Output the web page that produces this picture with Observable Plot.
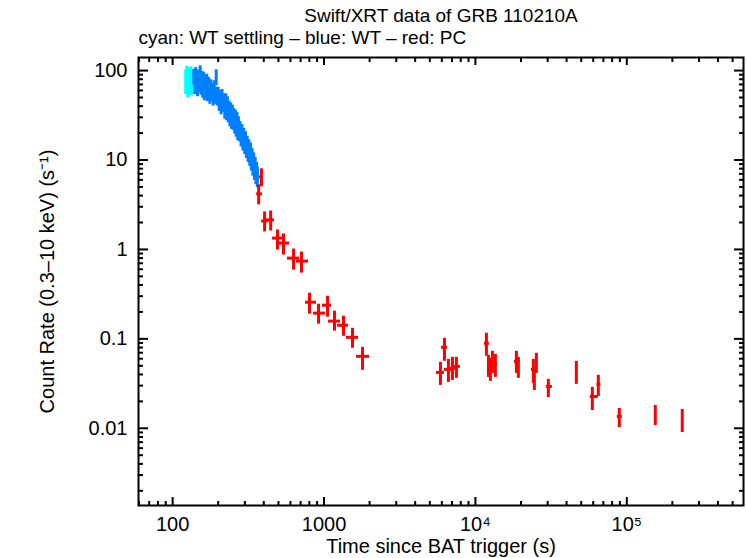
<!DOCTYPE html>
<html>
<head>
<meta charset="utf-8">
<script src="https://cdn.jsdelivr.net/npm/d3@7"></script>
<script src="https://cdn.jsdelivr.net/npm/@observablehq/plot@0.6"></script>
<style>
  html, body { margin: 0; padding: 0; background: #fff; }
</style>
</head>
<body>
<div id="chart"></div>
<script>
// ---------- Text ----------
const titleText = "Swift/XRT data of GRB 110210A";
const subtitleText = "cyan: WT settling \u2013 blue: WT \u2013 red: PC";
const xLabelText = "Time since BAT trigger (s)";
const yLabelText = "Count Rate (0.3\u201310 keV) (s\u207B\u00B9)";

// ---------- Ticks ----------
const xMajor = [100, 1000, 10000, 100000];
const xMajorLabels = ["100", "1000", "10\u2074", "10\u2075"];
const xMinor = [60, 70, 80, 90, 200, 300, 400, 500, 600, 700, 800, 900,
  2000, 3000, 4000, 5000, 6000, 7000, 8000, 9000,
  20000, 30000, 40000, 50000, 60000, 70000, 80000, 90000,
  200000, 300000, 400000, 500000];
const yMajor = [0.01, 0.1, 1, 10, 100];
const yMajorLabels = ["0.01", "0.1", "1", "10", "100"];
const yMinor = [0.002, 0.003, 0.004, 0.005, 0.006, 0.007, 0.008, 0.009,
  0.02, 0.03, 0.04, 0.05, 0.06, 0.07, 0.08, 0.09,
  0.2, 0.3, 0.4, 0.5, 0.6, 0.7, 0.8, 0.9,
  2, 3, 4, 5, 6, 7, 8, 9,
  20, 30, 40, 50, 60, 70, 80, 90];

// ---------- WT settling (cyan) ----------
const wtsTime = [122, 124, 126, 128, 130, 132, 134];
const wtsRate = [78, 86, 72, 82, 74, 84, 76];
const wtsErr  = [24, 26, 22, 25, 22, 26, 23];

// ---------- WT (blue) ----------
const wtTime = [138,140,142,144,146,148,150,152,154,156,158,160,162,164,166,168,170,
  173,176,179,182,185,188,191,194,197,
  200,203,206,209,212,215,218,221,224,227,230,233,236,239,242,245,248,251,254,257,260,263,266,269,272,275,
  279,283,287,291,295,299,303,307,311,315,319,323,327,331,335,339,343,347,351,355,359,363];
const wtRate = [86,70,90,74,66,84,72,95,68,82,64,80,60,74,62,76,58,
  70,54,66,58,52,64,54,85,52,
  54,46,50,42,52,44,46,38,46,36,42,34,38,31,36,29,34,28,31,26,30,24,28,22,25,21,
  22,19,20.5,17,18.5,15.5,17,14,15,12.8,13.8,11.5,12.5,10.2,11,9,9.8,8,8.6,7.2,7.6,6.6];
const wtErr = [17,16,18,16,15,17,16,18,15,16,15,16,14,15,14,15,13,
  14,12,13,13,12,13,12,17,12,
  11,11,10,10,9.5,10,9,9.5,9,8.5,9,8,7.5,7.5,7.5,7,7,6.5,6.5,6.5,6,6,6,5.5,5.5,5,
  4.8,5,4.4,4.4,4,4,3.7,3.6,3.3,3.4,3,3,2.9,2.7,2.5,2.4,2.2,2.1,2.1,1.9,1.8,1.7];

// ---------- PC (red) ----------
const pcTime = [370, 386, 405, 444, 493, 540, 629, 710, 802, 920, 1055, 1173, 1345, 1542, 1795,
  5875, 6244, 6635, 7051, 7492, 11820, 12190, 12560, 12950, 13550, 18650, 19220,
  24140, 24510, 25270, 30320, 46420, 59190, 64850, 89210, 154200, 232400];
const pcTimeLo = [359, 375, 387, 417, 457, 501, 574, 658, 755, 852, 977, 1071, 1228, 1408, 1639,
  5530, 5966, 6244, 6839, 7160, 11470, 12190, 12560, 12950, 12950, 18090, 19220,
  23420, 24510, 25270, 29420, 45800, 57410, 63500, 86550, 153000, 231000];
const pcTimeHi = [392, 398, 430, 471, 532, 592, 689, 790, 892, 1023, 1121, 1285, 1451, 1689, 1997,
  6244, 6535, 7051, 7379, 7962, 12370, 12190, 12560, 12950, 13970, 19820, 19220,
  24890, 24510, 25270, 32240, 47100, 64850, 67500, 93390, 155400, 233800];
const pcRate = [4.18, 6.48, 2.08, 2.14, 1.34, 1.18, 0.80, 0.741, 0.257, 0.194, 0.238, 0.158, 0.142, 0.104, 0.0638,
  0.0422, 0.0805, 0.0456, 0.0468, 0.0493, 0.0892, 0.0506, 0.0444, 0.0547, 0.052, 0.0561, 0.0493,
  0.0456, 0.0381, 0.0506, 0.0294, 0.0433, 0.0227, 0.031, 0.01356, 0.0139, 0.01223];
const pcRateLo = [3.15, 5.01, 1.57, 1.61, 0.985, 0.865, 0.587, 0.544, 0.189, 0.146, 0.175, 0.122, 0.107, 0.0785, 0.0445,
  0.0302, 0.0561, 0.0326, 0.0343, 0.0362, 0.0638, 0.0371, 0.0335, 0.0411, 0.0371, 0.0411, 0.0362,
  0.0318, 0.0265, 0.0411, 0.0221, 0.031, 0.0158, 0.0227, 0.0102, 0.01075, 0.00897];
const pcRateHi = [5.27, 7.96, 2.63, 2.69, 1.65, 1.49, 1.01, 0.935, 0.324, 0.244, 0.30, 0.204, 0.179, 0.131, 0.0805,
  0.0547, 0.1015, 0.059, 0.0622, 0.0622, 0.1156, 0.0655, 0.0606, 0.0726, 0.0672, 0.0726, 0.0622,
  0.059, 0.048, 0.069, 0.0352, 0.0561, 0.0287, 0.0391, 0.01667, 0.018, 0.01625];

// ---------- Build tables ----------
const wts = wtsTime.map((t, i) => ({t, r: wtsRate[i], lo: wtsRate[i] - wtsErr[i], hi: wtsRate[i] + wtsErr[i]}));
const wt = wtTime.map((t, i) => ({t, r: wtRate[i], lo: wtRate[i] - wtErr[i], hi: wtRate[i] + wtErr[i]}));
const pc = pcTime.map((t, i) => ({t, tlo: pcTimeLo[i], thi: pcTimeHi[i], r: pcRate[i], lo: pcRateLo[i], hi: pcRateHi[i]}));

// ---------- Layout ----------
const W = 746, H = 558;
const mL = 138, mR = 3, mT = 57, mB = 53;
const frameW = W - mL - mR, frameH = H - mT - mB;
const font = "'Liberation Sans', Arial, Helvetica, sans-serif";
const fs = 20;
const fsTitle = 19;

const cyan = "#00ffff", blue = "#0080ff", red = "#ff0000";

const chart = Plot.plot({
  width: W,
  height: H,
  marginLeft: mL,
  marginRight: mR,
  marginTop: mT,
  marginBottom: mB,
  style: {background: "#fff", fontSize: fs + "px", fontFamily: font, color: "#000"},
  x: {type: "log", domain: [59.5, 590000]},
  y: {type: "log", domain: [0.00137, 140]},
  marks: [
    // data: WT settling
    Plot.ruleX(wts, {x: "t", y1: "lo", y2: "hi", stroke: cyan, strokeWidth: 3}),
    // data: WT
    Plot.ruleX(wt, {x: "t", y1: "lo", y2: "hi", stroke: blue, strokeWidth: 3}),
    // data: PC
    Plot.ruleX(pc, {x: "t", y1: "lo", y2: "hi", stroke: red, strokeWidth: 3}),
    Plot.ruleY(pc, {y: "r", x1: "tlo", x2: "thi", stroke: red, strokeWidth: 3}),

    // inward ticks: bottom & top
    Plot.ruleX(xMajor, {x: d => d, insetTop: frameH - 8, stroke: "#000", strokeWidth: 2}),
    Plot.ruleX(xMinor, {x: d => d, insetTop: frameH - 4, stroke: "#000", strokeWidth: 2}),
    Plot.ruleX(xMajor, {x: d => d, insetBottom: frameH - 8, stroke: "#000", strokeWidth: 2}),
    Plot.ruleX(xMinor, {x: d => d, insetBottom: frameH - 5, stroke: "#000", strokeWidth: 2}),
    // inward ticks: left & right
    Plot.ruleY(yMajor, {y: d => d, insetRight: frameW - 10, stroke: "#000", strokeWidth: 2}),
    Plot.ruleY(yMinor, {y: d => d, insetRight: frameW - 5, stroke: "#000", strokeWidth: 2}),
    Plot.ruleY(yMajor, {y: d => d, insetLeft: frameW - 9, stroke: "#000", strokeWidth: 2}),
    Plot.ruleY(yMinor, {y: d => d, insetLeft: frameW - 4, stroke: "#000", strokeWidth: 2}),

    // tick labels
    Plot.axisX(xMajor, {tickSize: 0, tickPadding: 11, tickFormat: d => xMajorLabels[xMajor.indexOf(d)], label: null, fontSize: fs}),
    Plot.axisY(yMajor, {tickSize: 0, tickPadding: 11, tickFormat: d => yMajorLabels[yMajor.indexOf(d)], label: null, fontSize: fs}),

    Plot.frame({stroke: "#000", strokeWidth: 2}),

    // titles and axis labels
    Plot.text([titleText], {text: d => d, frameAnchor: "top", dy: -36, lineAnchor: "bottom", fontSize: fsTitle, fill: "#000"}),
    Plot.text([subtitleText], {text: d => d, frameAnchor: "top-left", textAnchor: "start", dy: -14, lineAnchor: "bottom", fontSize: fsTitle, fill: "#000"}),
    Plot.text([xLabelText], {text: d => d, frameAnchor: "bottom", dy: 47, lineAnchor: "bottom", fontSize: fs, fill: "#000"}),
    Plot.text([yLabelText], {text: d => d, frameAnchor: "left", textAnchor: "middle", dx: -85, rotate: -90, lineAnchor: "bottom", fontSize: fs, fill: "#000"})
  ]
});
document.getElementById("chart").appendChild(chart);
</script>
</body>
</html>
